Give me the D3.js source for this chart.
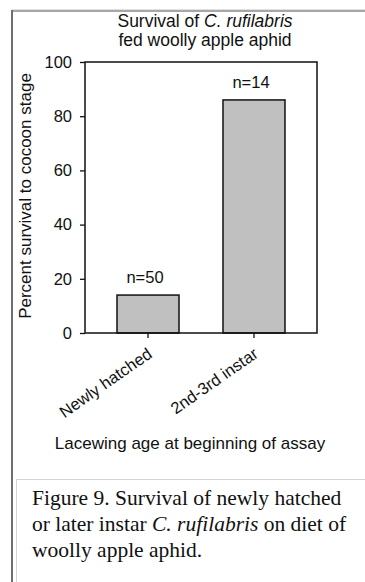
<!DOCTYPE html>
<html>
<head>
<meta charset="utf-8">
<script src="https://cdn.jsdelivr.net/npm/d3@7"></script>
<style>
  body { margin: 0; background: #fff; }
  svg { display: block; }
</style>
</head>
<body>
<svg id="chart" width="365" height="582"></svg>
<script>
const categories = ["Newly hatched", "2nd-3rd instar"];
const survival = [14, 86];
const sampleSizes = [50, 14];
const yTicks = [0, 20, 40, 60, 80, 100];

(() => {
  const width = 365;
  const height = 582;
  const plot = { left: 85, right: 317, top: 62, bottom: 333 };
  const sans = "'Liberation Sans', Arial, sans-serif";
  const serif = "'Liberation Serif', 'Times New Roman', serif";

  const svg = d3.select("#chart");

  const data = categories.map((c, i) => ({ cat: c, value: survival[i], n: sampleSizes[i] }));

  // page frame
  svg.append("line")
    .attr("x1", 12).attr("x2", width).attr("y1", 9.5).attr("y2", 9.5)
    .attr("stroke", "#e0e0e0").attr("stroke-width", 1);
  svg.append("line")
    .attr("x1", 12).attr("x2", width).attr("y1", 11).attr("y2", 11)
    .attr("stroke", "#8a8a8a").attr("stroke-width", 1.5);
  svg.append("line")
    .attr("x1", 12).attr("x2", 12).attr("y1", 10).attr("y2", height)
    .attr("stroke", "#6e6e6e").attr("stroke-width", 2);

  // caption box
  svg.append("line")
    .attr("x1", 16).attr("x2", width).attr("y1", 479.5).attr("y2", 479.5)
    .attr("stroke", "#d4d4d4").attr("stroke-width", 1);
  svg.append("line")
    .attr("x1", 16.5).attr("x2", 16.5).attr("y1", 479).attr("y2", height)
    .attr("stroke", "#d4d4d4").attr("stroke-width", 1);

  const x = d3.scaleBand()
    .domain(categories)
    .range([plot.left, plot.right])
    .paddingInner(0.415)
    .paddingOuter(0.302);

  const y = d3.scaleLinear()
    .domain([0, 100])
    .range([plot.bottom, plot.top]);

  // bars
  svg.selectAll(".bar")
    .data(data)
    .join("rect")
    .attr("class", "bar")
    .attr("x", d => x(d.cat))
    .attr("y", d => y(d.value))
    .attr("width", x.bandwidth())
    .attr("height", d => y(0) - y(d.value))
    .attr("fill", "#c0c0c0")
    .attr("stroke", "#111")
    .attr("stroke-width", 1.5);

  // n labels
  svg.selectAll(".nlab")
    .data(data)
    .join("text")
    .attr("class", "nlab")
    .attr("x", d => x(d.cat) + x.bandwidth() / 2 - 3)
    .attr("y", d => y(d.value) - 12)
    .attr("text-anchor", "middle")
    .style("font-family", sans)
    .style("font-size", "16.5px")
    .attr("fill", "#111")
    .text(d => `n=${d.n}`);

  // axes
  const yAxis = svg.append("g")
    .attr("transform", `translate(${plot.left},0)`)
    .call(d3.axisLeft(y).tickValues(yTicks).tickSize(5).tickPadding(8));
  yAxis.select(".domain").remove();
  yAxis.selectAll("line").attr("stroke", "#111").attr("stroke-width", 1.3);
  yAxis.selectAll("text")
    .style("font-family", sans)
    .style("font-size", "16.5px")
    .attr("fill", "#111");

  const xAxis = svg.append("g")
    .attr("transform", `translate(0,${plot.bottom})`)
    .call(d3.axisBottom(x).tickSize(5).tickPadding(4));
  xAxis.select(".domain").remove();
  xAxis.selectAll("line").attr("stroke", "#111").attr("stroke-width", 1.3);
  xAxis.selectAll("text")
    .style("font-family", sans)
    .style("font-size", "16.5px")
    .attr("fill", "#111")
    .attr("text-anchor", "end")
    .attr("dy", 0)
    .attr("transform", "translate(0,16) rotate(-35)");

  // plot box
  svg.append("rect")
    .attr("x", plot.left)
    .attr("y", plot.top)
    .attr("width", plot.right - plot.left)
    .attr("height", plot.bottom - plot.top)
    .attr("fill", "none")
    .attr("stroke", "#111")
    .attr("stroke-width", 1.5);

  // title
  const title = svg.append("text")
    .attr("x", 205)
    .attr("y", 27)
    .attr("text-anchor", "middle")
    .style("font-family", sans)
    .style("font-size", "17.5px")
    .attr("fill", "#111");
  title.append("tspan").text("Survival of ");
  title.append("tspan").style("font-style", "italic").text("C. rufilabris");
  svg.append("text")
    .attr("x", 205)
    .attr("y", 46)
    .attr("text-anchor", "middle")
    .style("font-family", sans)
    .style("font-size", "17.5px")
    .attr("fill", "#111")
    .text("fed woolly apple aphid");

  // axis titles
  svg.append("text")
    .attr("transform", "rotate(-90)")
    .attr("x", -196)
    .attr("y", 31)
    .attr("text-anchor", "middle")
    .style("font-family", sans)
    .style("font-size", "17px")
    .attr("fill", "#111")
    .text("Percent survival to cocoon stage");

  svg.append("text")
    .attr("x", 190)
    .attr("y", 449)
    .attr("text-anchor", "middle")
    .style("font-family", sans)
    .style("font-size", "17px")
    .attr("fill", "#111")
    .text("Lacewing age at beginning of assay");

  // caption
  const cap = svg.append("text")
    .attr("x", 32)
    .style("font-family", serif)
    .style("font-size", "21.5px")
    .attr("fill", "#111");
  cap.append("tspan").attr("x", 32).attr("y", 505)
    .text("Figure 9. Survival of newly hatched");
  const l2 = cap.append("tspan").attr("x", 32).attr("y", 531);
  l2.append("tspan").text("or later instar ");
  l2.append("tspan").style("font-style", "italic").text("C. rufilabris");
  l2.append("tspan").text(" on diet of");
  cap.append("tspan").attr("x", 32).attr("y", 557)
    .text("woolly apple aphid.");
})();
</script>
</body>
</html>
